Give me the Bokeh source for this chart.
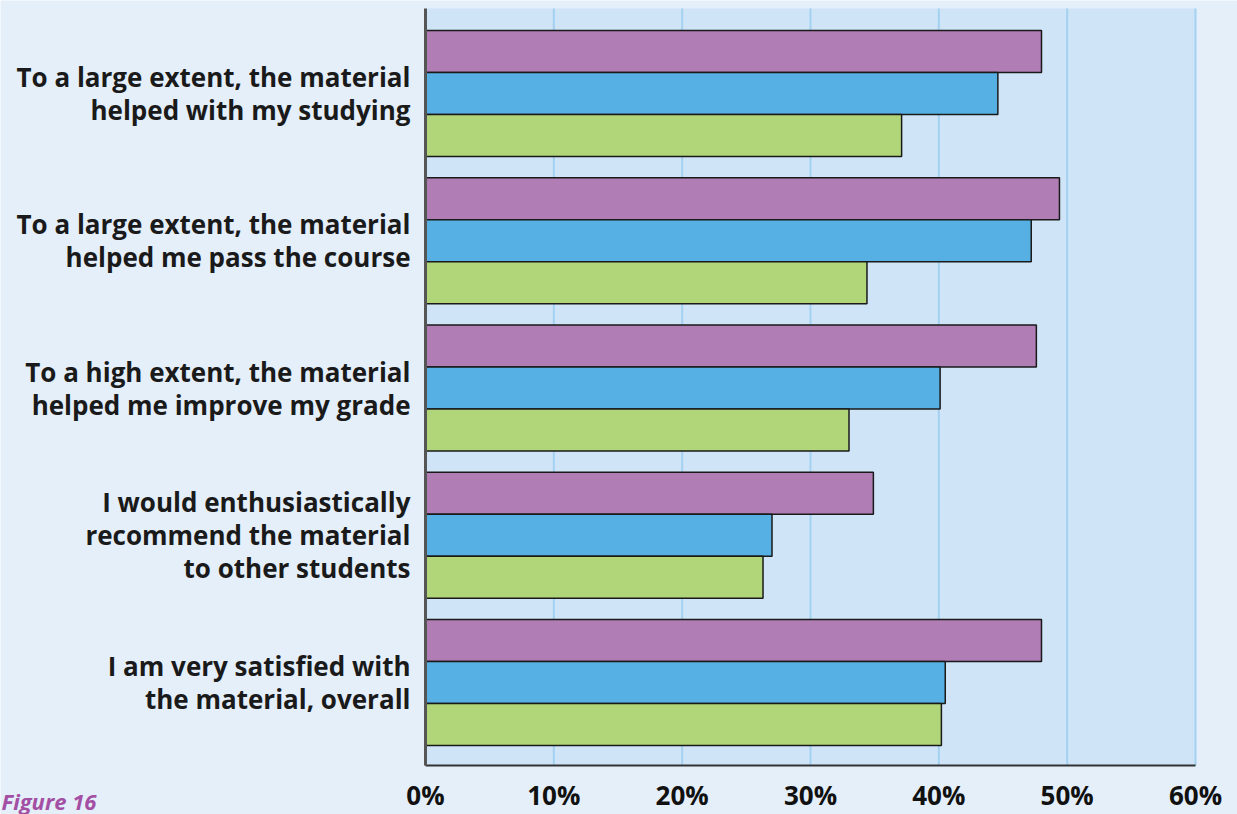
from bokeh.plotting import figure
from bokeh.models import ColumnDataSource, Range1d
from bokeh.core.properties import value
from bokeh.transform import dodge
from bokeh.embed import file_html
from bokeh.resources import INLINE

# ---- data (top to bottom as in the reference) ----
categories = [
    "To a large extent, the material\nhelped with my studying",
    "To a large extent, the material\nhelped me pass the course",
    "To a high extent, the material\nhelped me improve my grade",
    "I would enthusiastically\nrecommend the material\nto other students",
    "I am very satisfied with\nthe material, overall",
]
series_purple = [48.0, 49.4, 47.6, 34.9, 48.0]
series_blue = [44.6, 47.2, 40.1, 27.0, 40.5]
series_green = [37.1, 34.4, 33.0, 26.3, 40.2]
x_ticks = [0, 10, 20, 30, 40, 50, 60]
tick_labels = ["0%", "10%", "20%", "30%", "40%", "50%", "60%"]
caption = "Figure 16"

# ---- geometry (canvas pixels) ----
W, H = 1237, 814
plot_left, plot_right, plot_top, plot_bottom = 425, 1195, 8, 765
px_per_pct = (plot_right - plot_left) / (x_ticks[-1] - x_ticks[0])
unit_px = 147.25                       # one category slot, in pixels
n = len(categories)
ypos = [n - 1 - i + 0.5 for i in range(n)]   # group centres, top group highest
y_bot = 0.5 - 83.0 / unit_px                 # data y at the plot's bottom edge
y_top = y_bot + (plot_bottom - plot_top) / unit_px

x_start = x_ticks[0] - plot_left / px_per_pct
x_end = x_ticks[-1] + (W - plot_right) / px_per_pct
yr_start = y_bot - (H - plot_bottom) / unit_px
yr_end = y_bot + plot_bottom / unit_px

p = figure(width=W, height=H, output_backend="svg", toolbar_location=None,
           x_range=Range1d(x_start, x_end), y_range=Range1d(yr_start, yr_end),
           min_border=0, min_border_left=0, min_border_right=0,
           min_border_top=0, min_border_bottom=0)
p.axis.visible = False
p.grid.visible = False
p.outline_line_color = None
p.background_fill_color = "#E4EFFA"
p.border_fill_color = "#E4EFFA"

# plot area background, grid lines
p.quad(left=x_ticks[0], right=x_ticks[-1], bottom=y_bot, top=y_top,
       fill_color="#CFE4F7", line_color=None)
p.segment(x0=x_ticks[1:], y0=[y_bot] * (len(x_ticks) - 1),
          x1=x_ticks[1:], y1=[y_top] * (len(x_ticks) - 1),
          line_color="#A3D1F1", line_width=2)

# bars
src = ColumnDataSource(dict(y=ypos, purple=series_purple, blue=series_blue,
                            green=series_green))
bh = 42.0 / unit_px
colors = {"purple": "#B07DB5", "blue": "#57B0E3", "green": "#B1D579"}
offsets = {"purple": bh, "blue": 0.0, "green": -bh}
for key in ["purple", "blue", "green"]:
    p.hbar(y=dodge("y", offsets[key]), left=0, right=key, height=bh, source=src,
           fill_color=colors[key], line_color="#1a1a1a", line_width=1.5)

# axis lines
p.segment(x0=[x_ticks[0]], y0=[y_bot], x1=[x_ticks[-1]], y1=[y_bot],
          line_color="#333333", line_width=2)
p.segment(x0=[x_ticks[0]], y0=[y_bot], x1=[x_ticks[0]], y1=[y_top],
          line_color="#555555", line_width=3)

# x tick labels
p.text(x=x_ticks, y=[y_bot - 29.0 / unit_px] * len(x_ticks), text=tick_labels,
       text_align="center", text_baseline="middle",
       text_font=value("Open Sans"), text_font_style="bold",
       text_font_size="26px", text_color="#111111")

# category labels, one text per line, right aligned left of the axis
line_gap = 33.0
lx, ly, lt = [], [], []
for yc, cat in zip(ypos, categories):
    lines = cat.split("\n")
    m = len(lines)
    for j, line in enumerate(lines):
        lx.append(x_ticks[0] - 15.0 / px_per_pct)
        ly.append(yc + ((m - 1) / 2.0 - j) * line_gap / unit_px)
        lt.append(line)
p.text(x=lx, y=ly, text=lt, text_align="right", text_baseline="middle",
       text_font=value("Open Sans"), text_font_style="bold",
       text_font_size="26px", text_color="#1a1a1a")

# caption
p.text(x=[x_start + 1.0 / px_per_pct], y=[y_bot - 35.0 / unit_px], text=[caption],
       text_align="left", text_baseline="middle",
       text_font=value("Open Sans"), text_font_style="bold italic",
       text_font_size="22px", text_color="#A34FA3")

open("out.html", "w").write(file_html(p, INLINE))
